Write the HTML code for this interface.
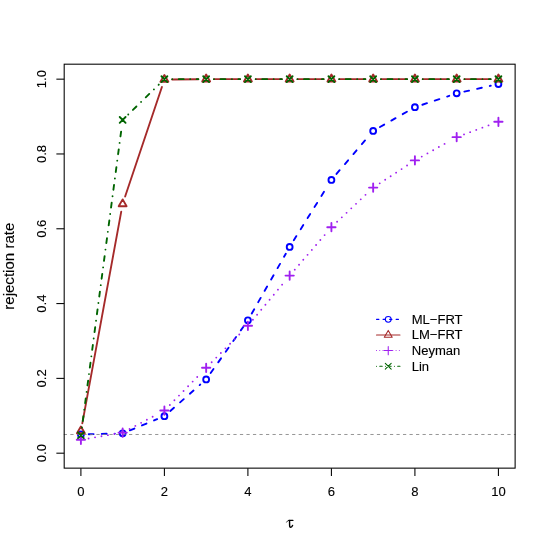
<!DOCTYPE html>
<html><head><meta charset="utf-8"><title>plot</title><style>html,body{margin:0;padding:0;background:#fff}</style></head><body>
<svg width="548" height="548" viewBox="0 0 548 548" style="display:block;will-change:transform;font-family:'Liberation Sans',sans-serif">
<rect width="548" height="548" fill="#fff"/><style>text{stroke:#000;stroke-width:0.12px;fill:#000}</style>
<line x1="88.72" y1="434.28" x2="114.82" y2="433.57" stroke="#0000ff" stroke-width="1.881" stroke-linecap="round" stroke-dasharray="4.893 8.155"/>
<line x1="129.89" y1="430.38" x2="157.16" y2="419.14" stroke="#0000ff" stroke-width="1.881" stroke-linecap="round" stroke-dasharray="4.893 8.155"/>
<line x1="170.28" y1="410.98" x2="200.28" y2="384.56" stroke="#0000ff" stroke-width="1.881" stroke-linecap="round" stroke-dasharray="4.893 8.155"/>
<line x1="210.67" y1="373.00" x2="243.39" y2="326.69" stroke="#0000ff" stroke-width="1.881" stroke-linecap="round" stroke-dasharray="4.893 8.155"/>
<line x1="251.78" y1="313.49" x2="285.79" y2="253.71" stroke="#0000ff" stroke-width="1.881" stroke-linecap="round" stroke-dasharray="4.893 8.155"/>
<line x1="293.80" y1="240.27" x2="327.27" y2="186.56" stroke="#0000ff" stroke-width="1.881" stroke-linecap="round" stroke-dasharray="4.893 8.155"/>
<line x1="336.48" y1="173.96" x2="368.09" y2="136.84" stroke="#0000ff" stroke-width="1.881" stroke-linecap="round" stroke-dasharray="4.893 8.155"/>
<line x1="379.97" y1="127.02" x2="408.10" y2="111.07" stroke="#0000ff" stroke-width="1.881" stroke-linecap="round" stroke-dasharray="4.893 8.155"/>
<line x1="422.35" y1="104.74" x2="449.24" y2="95.83" stroke="#0000ff" stroke-width="1.881" stroke-linecap="round" stroke-dasharray="4.893 8.155"/>
<line x1="464.31" y1="91.66" x2="490.78" y2="85.73" stroke="#0000ff" stroke-width="1.881" stroke-linecap="round" stroke-dasharray="4.893 8.155"/>
<circle cx="80.90" cy="434.49" r="2.936" stroke="#0000ff" stroke-width="1.881" fill="none" stroke-linecap="round" stroke-linejoin="round"/>
<circle cx="122.65" cy="433.36" r="2.936" stroke="#0000ff" stroke-width="1.881" fill="none" stroke-linecap="round" stroke-linejoin="round"/>
<circle cx="164.40" cy="416.16" r="2.936" stroke="#0000ff" stroke-width="1.881" fill="none" stroke-linecap="round" stroke-linejoin="round"/>
<circle cx="206.15" cy="379.39" r="2.936" stroke="#0000ff" stroke-width="1.881" fill="none" stroke-linecap="round" stroke-linejoin="round"/>
<circle cx="247.90" cy="320.29" r="2.936" stroke="#0000ff" stroke-width="1.881" fill="none" stroke-linecap="round" stroke-linejoin="round"/>
<circle cx="289.66" cy="246.91" r="2.936" stroke="#0000ff" stroke-width="1.881" fill="none" stroke-linecap="round" stroke-linejoin="round"/>
<circle cx="331.41" cy="179.92" r="2.936" stroke="#0000ff" stroke-width="1.881" fill="none" stroke-linecap="round" stroke-linejoin="round"/>
<circle cx="373.16" cy="130.88" r="2.936" stroke="#0000ff" stroke-width="1.881" fill="none" stroke-linecap="round" stroke-linejoin="round"/>
<circle cx="414.91" cy="107.21" r="2.936" stroke="#0000ff" stroke-width="1.881" fill="none" stroke-linecap="round" stroke-linejoin="round"/>
<circle cx="456.67" cy="93.37" r="2.936" stroke="#0000ff" stroke-width="1.881" fill="none" stroke-linecap="round" stroke-linejoin="round"/>
<circle cx="498.42" cy="84.02" r="2.936" stroke="#0000ff" stroke-width="1.881" fill="none" stroke-linecap="round" stroke-linejoin="round"/>
<line x1="64.19" y1="434.49" x2="515.12" y2="434.49" stroke="#7f7f7f" stroke-width="0.815" stroke-linecap="round" stroke-dasharray="2.446 4.077"/>
<line x1="82.31" y1="423.31" x2="121.23" y2="211.67" stroke="#a52a2a" stroke-width="1.881" stroke-linecap="round"/>
<line x1="125.14" y1="196.55" x2="161.91" y2="86.95" stroke="#a52a2a" stroke-width="1.881" stroke-linecap="round"/>
<line x1="172.23" y1="79.46" x2="198.32" y2="79.23" stroke="#a52a2a" stroke-width="1.881" stroke-linecap="round"/>
<line x1="213.98" y1="79.16" x2="240.08" y2="79.16" stroke="#a52a2a" stroke-width="1.881" stroke-linecap="round"/>
<line x1="255.73" y1="79.16" x2="281.83" y2="79.16" stroke="#a52a2a" stroke-width="1.881" stroke-linecap="round"/>
<line x1="297.49" y1="79.16" x2="323.58" y2="79.16" stroke="#a52a2a" stroke-width="1.881" stroke-linecap="round"/>
<line x1="339.24" y1="79.16" x2="365.33" y2="79.16" stroke="#a52a2a" stroke-width="1.881" stroke-linecap="round"/>
<line x1="380.99" y1="79.16" x2="407.09" y2="79.16" stroke="#a52a2a" stroke-width="1.881" stroke-linecap="round"/>
<line x1="422.74" y1="79.16" x2="448.84" y2="79.16" stroke="#a52a2a" stroke-width="1.881" stroke-linecap="round"/>
<line x1="464.50" y1="79.16" x2="490.59" y2="79.16" stroke="#a52a2a" stroke-width="1.881" stroke-linecap="round"/>
<path d="M80.90 426.44L84.85 433.29L76.94 433.29Z" stroke="#a52a2a" stroke-width="1.881" fill="none" stroke-linecap="round" stroke-linejoin="round"/>
<path d="M122.65 199.40L126.60 206.25L118.69 206.25Z" stroke="#a52a2a" stroke-width="1.881" fill="none" stroke-linecap="round" stroke-linejoin="round"/>
<path d="M164.40 74.96L168.35 81.81L160.45 81.81Z" stroke="#a52a2a" stroke-width="1.881" fill="none" stroke-linecap="round" stroke-linejoin="round"/>
<path d="M206.15 74.59L210.11 81.44L202.20 81.44Z" stroke="#a52a2a" stroke-width="1.881" fill="none" stroke-linecap="round" stroke-linejoin="round"/>
<path d="M247.90 74.59L251.86 81.44L243.95 81.44Z" stroke="#a52a2a" stroke-width="1.881" fill="none" stroke-linecap="round" stroke-linejoin="round"/>
<path d="M289.66 74.59L293.61 81.44L285.70 81.44Z" stroke="#a52a2a" stroke-width="1.881" fill="none" stroke-linecap="round" stroke-linejoin="round"/>
<path d="M331.41 74.59L335.36 81.44L327.46 81.44Z" stroke="#a52a2a" stroke-width="1.881" fill="none" stroke-linecap="round" stroke-linejoin="round"/>
<path d="M373.16 74.59L377.12 81.44L369.21 81.44Z" stroke="#a52a2a" stroke-width="1.881" fill="none" stroke-linecap="round" stroke-linejoin="round"/>
<path d="M414.91 74.59L418.87 81.44L410.96 81.44Z" stroke="#a52a2a" stroke-width="1.881" fill="none" stroke-linecap="round" stroke-linejoin="round"/>
<path d="M456.67 74.59L460.62 81.44L452.71 81.44Z" stroke="#a52a2a" stroke-width="1.881" fill="none" stroke-linecap="round" stroke-linejoin="round"/>
<path d="M498.42 74.59L502.37 81.44L494.47 81.44Z" stroke="#a52a2a" stroke-width="1.881" fill="none" stroke-linecap="round" stroke-linejoin="round"/>
<line x1="88.61" y1="438.47" x2="114.93" y2="433.94" stroke="#a020f0" stroke-width="1.881" stroke-linecap="round" stroke-dasharray="0.000 6.524"/>
<line x1="129.57" y1="428.96" x2="157.48" y2="414.21" stroke="#a020f0" stroke-width="1.881" stroke-linecap="round" stroke-dasharray="0.000 6.524"/>
<line x1="169.87" y1="404.95" x2="200.68" y2="373.40" stroke="#a020f0" stroke-width="1.881" stroke-linecap="round" stroke-dasharray="0.000 6.524"/>
<line x1="211.67" y1="362.24" x2="242.39" y2="331.34" stroke="#a020f0" stroke-width="1.881" stroke-linecap="round" stroke-dasharray="0.000 6.524"/>
<line x1="252.91" y1="319.77" x2="284.65" y2="281.62" stroke="#a020f0" stroke-width="1.881" stroke-linecap="round" stroke-dasharray="0.000 6.524"/>
<line x1="294.77" y1="269.67" x2="326.30" y2="233.13" stroke="#a020f0" stroke-width="1.881" stroke-linecap="round" stroke-dasharray="0.000 6.524"/>
<line x1="337.09" y1="221.81" x2="367.48" y2="192.98" stroke="#a020f0" stroke-width="1.881" stroke-linecap="round" stroke-dasharray="0.000 6.524"/>
<line x1="379.72" y1="183.32" x2="408.35" y2="164.67" stroke="#a020f0" stroke-width="1.881" stroke-linecap="round" stroke-dasharray="0.000 6.524"/>
<line x1="421.75" y1="156.58" x2="449.83" y2="140.94" stroke="#a020f0" stroke-width="1.881" stroke-linecap="round" stroke-dasharray="0.000 6.524"/>
<line x1="464.02" y1="134.43" x2="491.07" y2="124.49" stroke="#a020f0" stroke-width="1.881" stroke-linecap="round" stroke-dasharray="0.000 6.524"/>
<path d="M76.74 439.80H85.05M80.90 435.65V443.95" stroke="#a020f0" stroke-width="1.881" fill="none" stroke-linecap="round" stroke-linejoin="round"/>
<path d="M118.50 432.62H126.80M122.65 428.46V436.77" stroke="#a020f0" stroke-width="1.881" fill="none" stroke-linecap="round" stroke-linejoin="round"/>
<path d="M160.25 410.55H168.55M164.40 406.40V414.70" stroke="#a020f0" stroke-width="1.881" fill="none" stroke-linecap="round" stroke-linejoin="round"/>
<path d="M202.00 367.80H210.30M206.15 363.64V371.95" stroke="#a020f0" stroke-width="1.881" fill="none" stroke-linecap="round" stroke-linejoin="round"/>
<path d="M243.75 325.79H252.06M247.90 321.64V329.94" stroke="#a020f0" stroke-width="1.881" fill="none" stroke-linecap="round" stroke-linejoin="round"/>
<path d="M285.51 275.60H293.81M289.66 271.45V279.75" stroke="#a020f0" stroke-width="1.881" fill="none" stroke-linecap="round" stroke-linejoin="round"/>
<path d="M327.26 227.20H335.56M331.41 223.05V231.35" stroke="#a020f0" stroke-width="1.881" fill="none" stroke-linecap="round" stroke-linejoin="round"/>
<path d="M369.01 187.59H377.31M373.16 183.44V191.74" stroke="#a020f0" stroke-width="1.881" fill="none" stroke-linecap="round" stroke-linejoin="round"/>
<path d="M410.76 160.40H419.07M414.91 156.24V164.55" stroke="#a020f0" stroke-width="1.881" fill="none" stroke-linecap="round" stroke-linejoin="round"/>
<path d="M452.51 137.13H460.82M456.67 132.98V141.28" stroke="#a020f0" stroke-width="1.881" fill="none" stroke-linecap="round" stroke-linejoin="round"/>
<path d="M494.27 121.80H502.57M498.42 117.64V125.95" stroke="#a020f0" stroke-width="1.881" fill="none" stroke-linecap="round" stroke-linejoin="round"/>
<line x1="81.92" y1="427.47" x2="121.62" y2="127.69" stroke="#006400" stroke-width="1.881" stroke-linecap="round" stroke-dasharray="0.000 6.524 4.893 6.524"/>
<line x1="128.25" y1="114.46" x2="158.80" y2="84.62" stroke="#006400" stroke-width="1.881" stroke-linecap="round" stroke-dasharray="0.000 6.524 4.893 6.524"/>
<line x1="172.23" y1="79.16" x2="198.32" y2="79.16" stroke="#006400" stroke-width="1.881" stroke-linecap="round" stroke-dasharray="0.000 6.524 4.893 6.524"/>
<line x1="213.98" y1="79.16" x2="240.08" y2="79.16" stroke="#006400" stroke-width="1.881" stroke-linecap="round" stroke-dasharray="0.000 6.524 4.893 6.524"/>
<line x1="255.73" y1="79.16" x2="281.83" y2="79.16" stroke="#006400" stroke-width="1.881" stroke-linecap="round" stroke-dasharray="0.000 6.524 4.893 6.524"/>
<line x1="297.49" y1="79.16" x2="323.58" y2="79.16" stroke="#006400" stroke-width="1.881" stroke-linecap="round" stroke-dasharray="0.000 6.524 4.893 6.524"/>
<line x1="339.24" y1="79.16" x2="365.33" y2="79.16" stroke="#006400" stroke-width="1.881" stroke-linecap="round" stroke-dasharray="0.000 6.524 4.893 6.524"/>
<line x1="380.99" y1="79.16" x2="407.09" y2="79.16" stroke="#006400" stroke-width="1.881" stroke-linecap="round" stroke-dasharray="0.000 6.524 4.893 6.524"/>
<line x1="422.74" y1="79.16" x2="448.84" y2="79.16" stroke="#006400" stroke-width="1.881" stroke-linecap="round" stroke-dasharray="0.000 6.524 4.893 6.524"/>
<line x1="464.50" y1="79.16" x2="490.59" y2="79.16" stroke="#006400" stroke-width="1.881" stroke-linecap="round" stroke-dasharray="0.000 6.524 4.893 6.524"/>
<path d="M77.96 432.30L83.83 438.17M77.96 438.17L83.83 432.30" stroke="#006400" stroke-width="1.881" fill="none" stroke-linecap="round" stroke-linejoin="round"/>
<path d="M119.71 116.99L125.58 122.86M119.71 122.86L125.58 116.99" stroke="#006400" stroke-width="1.881" fill="none" stroke-linecap="round" stroke-linejoin="round"/>
<path d="M161.46 76.22L167.34 82.09M161.46 82.09L167.34 76.22" stroke="#006400" stroke-width="1.881" fill="none" stroke-linecap="round" stroke-linejoin="round"/>
<path d="M203.22 76.22L209.09 82.09M203.22 82.09L209.09 76.22" stroke="#006400" stroke-width="1.881" fill="none" stroke-linecap="round" stroke-linejoin="round"/>
<path d="M244.97 76.22L250.84 82.09M244.97 82.09L250.84 76.22" stroke="#006400" stroke-width="1.881" fill="none" stroke-linecap="round" stroke-linejoin="round"/>
<path d="M286.72 76.22L292.59 82.09M286.72 82.09L292.59 76.22" stroke="#006400" stroke-width="1.881" fill="none" stroke-linecap="round" stroke-linejoin="round"/>
<path d="M328.47 76.22L334.35 82.09M328.47 82.09L334.35 76.22" stroke="#006400" stroke-width="1.881" fill="none" stroke-linecap="round" stroke-linejoin="round"/>
<path d="M370.23 76.22L376.10 82.09M370.23 82.09L376.10 76.22" stroke="#006400" stroke-width="1.881" fill="none" stroke-linecap="round" stroke-linejoin="round"/>
<path d="M411.98 76.22L417.85 82.09M411.98 82.09L417.85 76.22" stroke="#006400" stroke-width="1.881" fill="none" stroke-linecap="round" stroke-linejoin="round"/>
<path d="M453.73 76.22L459.60 82.09M453.73 82.09L459.60 76.22" stroke="#006400" stroke-width="1.881" fill="none" stroke-linecap="round" stroke-linejoin="round"/>
<path d="M495.48 76.22L501.35 82.09M495.48 82.09L501.35 76.22" stroke="#006400" stroke-width="1.881" fill="none" stroke-linecap="round" stroke-linejoin="round"/>
<rect x="64.19" y="64.19" width="450.93" height="403.95" fill="none" stroke="#000000" stroke-width="1.065"/>
<line x1="80.90" y1="468.15" x2="80.90" y2="475.98" stroke="#000000" stroke-width="1.065"/>
<text x="80.90" y="496.3" font-size="13.05" text-anchor="middle">0</text>
<line x1="164.40" y1="468.15" x2="164.40" y2="475.98" stroke="#000000" stroke-width="1.065"/>
<text x="164.40" y="496.3" font-size="13.05" text-anchor="middle">2</text>
<line x1="247.90" y1="468.15" x2="247.90" y2="475.98" stroke="#000000" stroke-width="1.065"/>
<text x="247.90" y="496.3" font-size="13.05" text-anchor="middle">4</text>
<line x1="331.41" y1="468.15" x2="331.41" y2="475.98" stroke="#000000" stroke-width="1.065"/>
<text x="331.41" y="496.3" font-size="13.05" text-anchor="middle">6</text>
<line x1="414.91" y1="468.15" x2="414.91" y2="475.98" stroke="#000000" stroke-width="1.065"/>
<text x="414.91" y="496.3" font-size="13.05" text-anchor="middle">8</text>
<line x1="498.42" y1="468.15" x2="498.42" y2="475.98" stroke="#000000" stroke-width="1.065"/>
<text x="498.42" y="496.3" font-size="13.05" text-anchor="middle">10</text>
<line x1="64.19" y1="453.19" x2="56.37" y2="453.19" stroke="#000000" stroke-width="1.065"/>
<text transform="translate(46.0 453.19) rotate(-90)" font-size="13.05" text-anchor="middle">0.0</text>
<line x1="64.19" y1="378.38" x2="56.37" y2="378.38" stroke="#000000" stroke-width="1.065"/>
<text transform="translate(46.0 378.38) rotate(-90)" font-size="13.05" text-anchor="middle">0.2</text>
<line x1="64.19" y1="303.57" x2="56.37" y2="303.57" stroke="#000000" stroke-width="1.065"/>
<text transform="translate(46.0 303.57) rotate(-90)" font-size="13.05" text-anchor="middle">0.4</text>
<line x1="64.19" y1="228.77" x2="56.37" y2="228.77" stroke="#000000" stroke-width="1.065"/>
<text transform="translate(46.0 228.77) rotate(-90)" font-size="13.05" text-anchor="middle">0.6</text>
<line x1="64.19" y1="153.96" x2="56.37" y2="153.96" stroke="#000000" stroke-width="1.065"/>
<text transform="translate(46.0 153.96) rotate(-90)" font-size="13.05" text-anchor="middle">0.8</text>
<line x1="64.19" y1="79.16" x2="56.37" y2="79.16" stroke="#000000" stroke-width="1.065"/>
<text transform="translate(46.0 79.16) rotate(-90)" font-size="13.05" text-anchor="middle">1.0</text>
<text transform="translate(14.1 266.17) rotate(-90)" font-size="15.1" text-anchor="middle">rejection rate</text>
<g fill="none" stroke="#000" stroke-linecap="round" stroke-linejoin="round"><path d="M292.9 520.45H288.9" stroke-width="1.3"/><path d="M288.9 520.3Q287.3 520.4 286.6 522.1" stroke-width="0.8"/><path d="M289.55 520.6L289.6 525.3Q289.6 527.3 290.7 527.25Q291.9 527.1 292.55 525.5" stroke-width="1.4"/></g>
<line x1="376.50" y1="319.35" x2="399.99" y2="319.35" stroke="#0000ff" stroke-width="1.065" stroke-linecap="round" stroke-dasharray="2.446 4.077"/>
<circle cx="388.24" cy="319.35" r="2.936" stroke="#0000ff" stroke-width="1.065" fill="none" stroke-linecap="round" stroke-linejoin="round"/>
<text x="411.73" y="323.82" font-size="13.05">ML−FRT</text>
<line x1="376.50" y1="334.97" x2="399.99" y2="334.97" stroke="#a52a2a" stroke-width="1.065" stroke-linecap="round"/>
<path d="M388.24 330.40L392.20 337.25L384.29 337.25Z" stroke="#a52a2a" stroke-width="1.065" fill="none" stroke-linecap="round" stroke-linejoin="round"/>
<text x="411.73" y="339.44" font-size="13.05">LM−FRT</text>
<line x1="376.50" y1="350.59" x2="399.99" y2="350.59" stroke="#a020f0" stroke-width="1.065" stroke-linecap="round" stroke-dasharray="0.000 3.262"/>
<path d="M384.09 350.59H392.39M388.24 346.44V354.74" stroke="#a020f0" stroke-width="1.065" fill="none" stroke-linecap="round" stroke-linejoin="round"/>
<text x="411.73" y="355.06" font-size="13.05">Neyman</text>
<line x1="376.50" y1="366.21" x2="399.99" y2="366.21" stroke="#006400" stroke-width="1.065" stroke-linecap="round" stroke-dasharray="0.000 3.262 2.446 3.262"/>
<path d="M385.31 363.27L391.18 369.15M385.31 369.15L391.18 363.27" stroke="#006400" stroke-width="1.065" fill="none" stroke-linecap="round" stroke-linejoin="round"/>
<text x="411.73" y="370.68" font-size="13.05">Lin</text>
</svg>
</body></html>
